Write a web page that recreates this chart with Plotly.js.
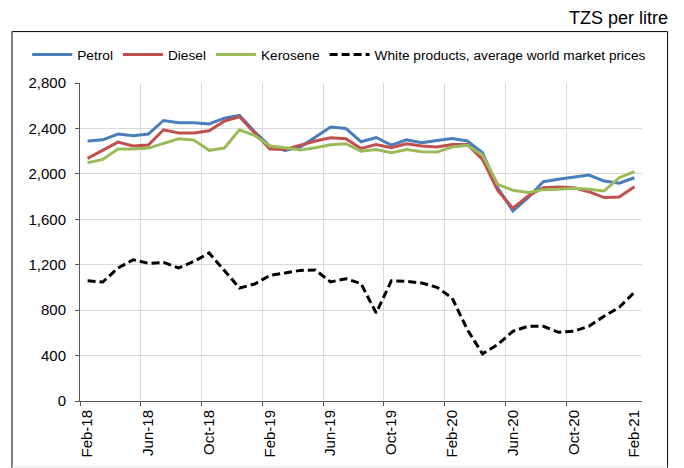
<!DOCTYPE html>
<html>
<head>
<meta charset="utf-8">
<script src="https://cdn.plot.ly/plotly-3.0.1.min.js"></script>
<style>
  html, body { margin: 0; padding: 0; background: #fff; }
  #chart { width: 684px; height: 468px; }
</style>
</head>
<body>
<div id="chart"></div>
<script>
// ---- data ----
const months = ["Feb-18","Mar-18","Apr-18","May-18","Jun-18","Jul-18","Aug-18","Sep-18","Oct-18","Nov-18","Dec-18","Jan-19",
                "Feb-19","Mar-19","Apr-19","May-19","Jun-19","Jul-19","Aug-19","Sep-19","Oct-19","Nov-19","Dec-19","Jan-20",
                "Feb-20","Mar-20","Apr-20","May-20","Jun-20","Jul-20","Aug-20","Sep-20","Oct-20","Nov-20","Dec-20","Jan-21","Feb-21"];
const petrol   = [2290,2300,2350,2335,2350,2470,2450,2450,2440,2490,2515,2370,2245,2207,2236,2324,2412,2400,2283,2320,2253,2300,2274,2294,2312,2289,2186,1878,1673,1791,1931,1952,1972,1990,1937,1917,1966];
const diesel   = [2136,2207,2280,2245,2253,2388,2359,2359,2380,2464,2503,2360,2218,2215,2253,2289,2318,2309,2224,2259,2230,2265,2245,2236,2259,2259,2128,1855,1697,1805,1878,1884,1878,1843,1791,1796,1887];
const kerosene = [2098,2127,2218,2218,2227,2265,2309,2297,2207,2227,2388,2338,2245,2230,2210,2230,2256,2265,2200,2215,2186,2215,2195,2192,2236,2251,2166,1908,1855,1835,1861,1864,1873,1864,1849,1966,2019];
const white    = [1059,1048,1171,1244,1212,1220,1171,1229,1303,1147,995,1030,1106,1127,1150,1153,1048,1077,1033,775,1059,1053,1039,1001,907,629,415,497,614,658,658,605,614,658,746,825,957];
const seriesNames = ["Petrol","Diesel","Kerosene","White products, average world market prices"];
const yTicks = [0,400,800,1200,1600,2000,2400,2800];

// ---- build ----
const xIdx = months.map((m, i) => i);
const labelStep = 4;
const labelVals = xIdx.filter(i => i % labelStep === 0);
const labelText = labelVals.map(i => months[i]);
const boundVals = labelVals.filter(i => i < months.length - 1).map(i => i - 0.5);

const FONT = "Liberation Sans, Arial, Helvetica, sans-serif";

const traces = [
  {x: xIdx, y: petrol, name: seriesNames[0], type: "scatter", mode: "lines",
   line: {color: "#4a7ebb", width: 3}},
  {x: xIdx, y: diesel, name: seriesNames[1], type: "scatter", mode: "lines",
   line: {color: "#c0504d", width: 3}},
  {x: xIdx, y: kerosene, name: seriesNames[2], type: "scatter", mode: "lines",
   line: {color: "#9bbb59", width: 3}},
  {x: xIdx, y: white, name: seriesNames[3], type: "scatter", mode: "lines",
   line: {color: "#000000", width: 3, dash: "8px,4px"}}
];

const layout = {
  width: 684, height: 468,
  margin: {l: 80, r: 42, t: 82.5, b: 67},
  paper_bgcolor: "#ffffff", plot_bgcolor: "#ffffff",
  font: {family: FONT, size: 15, color: "#000"},
  showlegend: true,
  title: {
    text: "TZS per litre",
    font: {family: FONT, size: 18, color: "#000"},
    xref: "container", x: 668/684, xanchor: "right",
    yref: "container", y: 1 - 18/468, yanchor: "middle"
  },
  legend: {
    orientation: "h",
    x: -0.094, xanchor: "left",
    y: 1.0895, yanchor: "middle",
    font: {family: FONT, size: 13.7, color: "#000"},
    itemwidth: 40,
    itemgap: 15,
    bgcolor: "rgba(0,0,0,0)",
    traceorder: "normal"
  },
  xaxis: {
    type: "linear",
    range: [-0.5, months.length - 0.5],
    tickmode: "array",
    tickvals: labelVals,
    ticktext: labelText,
    tickangle: -90,
    ticks: "",
    showgrid: false,
    zeroline: false,
    showline: true, linecolor: "#595959", linewidth: 1,
    tickfont: {family: FONT, size: 15, color: "#000"},
    ticklabelstandoff: 2,
    minor: {
      tickmode: "array",
      tickvals: boundVals,
      ticks: "outside", ticklen: 4, tickcolor: "#595959", tickwidth: 1,
      showgrid: true, gridcolor: "#d9d9d9", gridwidth: 1
    },
    fixedrange: true
  },
  yaxis: {
    range: [0, 2800],
    tickmode: "array",
    tickvals: yTicks,
    tickformat: ",d",
    ticks: "outside", ticklen: 4, tickcolor: "#595959",
    showgrid: true, gridcolor: "#d9d9d9", gridwidth: 1,
    zeroline: false,
    showline: true, linecolor: "#595959", linewidth: 1,
    tickfont: {family: FONT, size: 15, color: "#000"},
    ticklabelstandoff: 6,
    fixedrange: true
  },
  shapes: [
    {type: "path", xref: "paper", yref: "paper",
     path: "M -0.121,-0.3 L -0.121,1.1617 L 1.0455,1.1617 L 1.0455,-0.3",
     line: {color: "#000", width: 1}, layer: "below"},
    {type: "line", xref: "paper", yref: "paper",
     x0: -0.121, x1: 1.0455, y0: -0.2072, y1: -0.2072,
     line: {color: "#e3e3e3", width: 1}, layer: "below"}
  ]
};

Plotly.newPlot("chart", traces, layout, {displayModeBar: false, staticPlot: true});
</script>
</body>
</html>
